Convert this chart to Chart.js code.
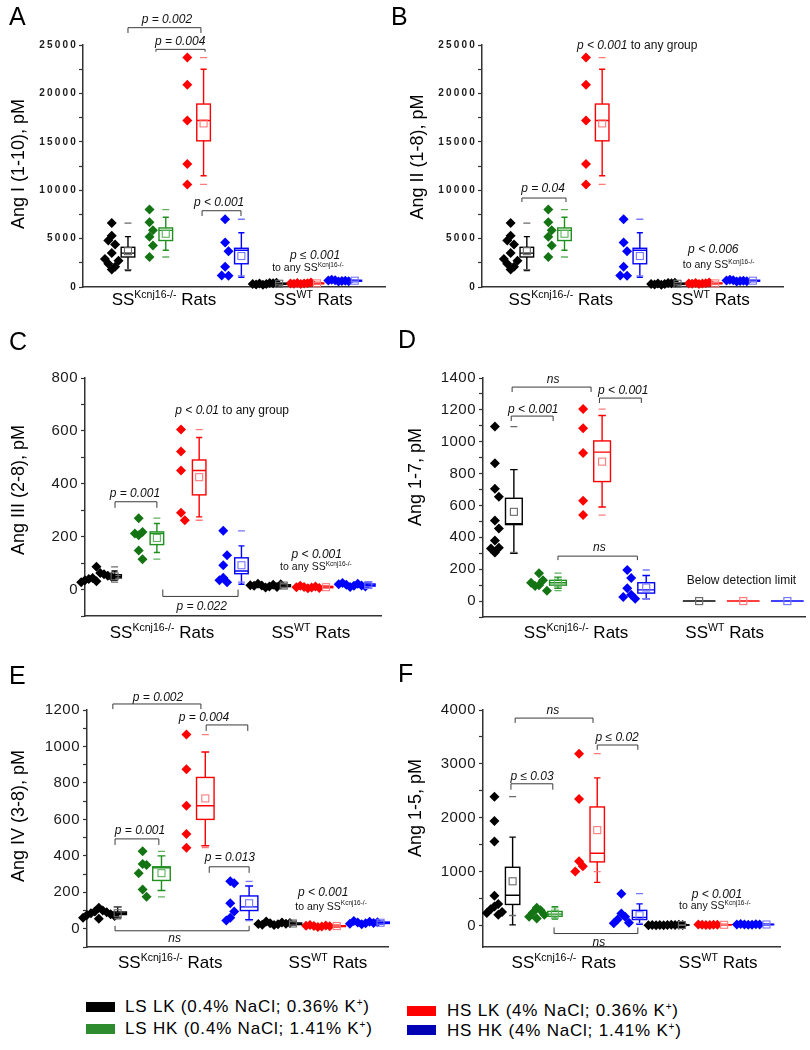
<!DOCTYPE html>
<html>
<head>
<meta charset="utf-8">
<script src="https://cdn.jsdelivr.net/npm/chart.js@4.4.0/dist/chart.umd.min.js"></script>
<style>
  body { margin: 0; background: #fff; font-family: "Liberation Sans", Arial, sans-serif; }
  #fig { position: relative; width: 810px; height: 1050px; overflow: hidden; }
  #fig canvas { position: absolute; }
  .letter { position: absolute; font-size: 25px; line-height: 30px; color: #000; }
  .key { position: absolute; font-size: 17px; line-height: 20px; letter-spacing: 0.8px; color: #000; white-space: nowrap; }
  .key sup { font-size: 10px; vertical-align: 6px; line-height: 0; }
  .sw { position: absolute; width: 29px; height: 10px; }
</style>
</head>
<body>
<div id="fig">
  <canvas id="cA"></canvas><canvas id="cB"></canvas>
  <canvas id="cC"></canvas><canvas id="cD"></canvas>
  <canvas id="cE"></canvas><canvas id="cF"></canvas>
  <div class="letter" style="left:9px;top:1px">A</div>
  <div class="letter" style="left:391px;top:1px">B</div>
  <div class="letter" style="left:9px;top:326px">C</div>
  <div class="letter" style="left:398px;top:324px">D</div>
  <div class="letter" style="left:9px;top:660px">E</div>
  <div class="letter" style="left:398px;top:658px">F</div>
</div>
<script>
// group order in every panel: SSKcnj16-/- LS LK, LS HK, HS LK, HS HK, then SSWT LS LK, HS LK, HS HK
const groupDiet = ['LS LK', 'LS HK', 'HS LK', 'HS HK', 'LS LK', 'HS LK', 'HS HK'];
const strainSup = ['Kcnj16-/-', 'WT'];
const dietLabels = ['LS LK (0.4% NaCl; 0.36% K+)', 'LS HK (0.4% NaCl; 1.41% K+)',
                    'HS LK (4% NaCl; 0.36% K+)', 'HS HK (4% NaCl; 1.41% K+)'];

// Ang I (1-10)
const angI_pts = [
  [1800, 3500, 4400, 5300, 2100, 6600, 2400, 4800, 2700, 2900],
  [5200, 4300, 8000, 3100, 5850, 6700],
  [20900, 12700, 17200, 10600, 23700],
  [2100, 4600, 1150, 7000, 1200, 3700],
  [220, 300, 350, 420, 260, 380, 310, 450],
  [300, 350, 420, 380, 330, 470, 360],
  [560, 620, 700, 650, 750, 600, 680]
];
const angI_lo   = [1700, 3800, 11500, 1000, 220, 300, 560];
const angI_q1   = [3100, 4800, 15100, 2400, 270, 330, 600];
const angI_med  = [3500, 5850, 17200, 3800, 330, 370, 650];
const angI_q3   = [4100, 6100, 18900, 4000, 400, 420, 700];
const angI_hi   = [5200, 7200, 22500, 5600, 450, 470, 750];
const angI_mean = [3700, 5500, 16900, 3200, 335, 373, 651];
const angI_min  = [1800, 3100, 10600, 1150, 220, 300, 560];
const angI_max  = [6600, 8000, 23700, 7000, 450, 470, 750];

// Ang II (1-8)
const angII_pts = [
  [1800, 3500, 4400, 5300, 2100, 6600, 2400, 4800, 2700, 2900],
  [5200, 4300, 8000, 3100, 5850, 6700],
  [20900, 12700, 17200, 10600, 23700],
  [2100, 4600, 1150, 7000, 1200, 3700],
  [220, 300, 350, 420, 260, 380, 310, 450],
  [300, 350, 420, 380, 330, 470, 360],
  [560, 620, 700, 650, 750, 600, 680]
];
const angII_lo   = [1700, 3800, 11500, 1000, 220, 300, 560];
const angII_q1   = [3100, 4800, 15100, 2400, 270, 330, 600];
const angII_med  = [3500, 5850, 17200, 3800, 330, 370, 650];
const angII_q3   = [4100, 6100, 18900, 4000, 400, 420, 700];
const angII_hi   = [5200, 7200, 22500, 5600, 450, 470, 750];
const angII_mean = [3700, 5500, 16900, 3200, 335, 373, 651];
const angII_min  = [1800, 3100, 10600, 1150, 220, 300, 560];
const angII_max  = [6600, 8000, 23700, 7000, 450, 470, 750];

// Ang III (2-8)
const angIII_pts = [
  [86, 31, 63, 44, 58, 40, 52, 35, 48, 28],
  [205, 148, 270, 115, 218, 212],
  [290, 522, 450, 605, 262],
  [92, 45, 222, 28, 130, 35],
  [8, 12, 15, 18, 22, 10, 14, 20, 16],
  [5, 8, 10, 12, 14, 6, 9],
  [10, 14, 18, 22, 25, 15, 20, 12]
];
const angIII_lo   = [35, 140, 275, 20, 8, 5, 10];
const angIII_q1   = [44, 170, 358, 60, 11, 7, 13];
const angIII_med  = [50, 212, 450, 70, 14, 9, 16];
const angIII_q3   = [56, 218, 490, 120, 18, 12, 21];
const angIII_hi   = [70, 250, 575, 165, 22, 14, 25];
const angIII_mean = [50, 195, 425, 92, 15, 9, 17];
const angIII_min  = [28, 115, 262, 28, 8, 5, 10];
const angIII_max  = [86, 270, 605, 222, 22, 14, 25];

// Ang 1-7 (SSWT below detection limit)
const ang17_pts = [
  [1095, 865, 705, 655, 505, 455, 380, 335, 330, 305],
  [175, 130, 100, 95, 65, 115],
  [1205, 1085, 930, 630, 540],
  [195, 145, 80, 40, 25, 15],
  [], [], []
];
const ang17_lo   = [300, 80, 590, 15, null, null, null];
const ang17_q1   = [480, 100, 750, 50, null, null, null];
const ang17_med  = [485, 115, 935, 70, null, null, null];
const ang17_q3   = [645, 130, 1005, 115, null, null, null];
const ang17_hi   = [825, 150, 1165, 160, null, null, null];
const ang17_mean = [560, 115, 875, 85, 0, 0, 0];
const ang17_min  = [305, 65, 540, 15, null, null, null];
const ang17_max  = [1095, 175, 1205, 195, null, null, null];

// Ang IV (3-8)
const angIV_pts = [
  [115, 100, 95, 90, 85, 80, 75, 70, 60, 55],
  [425, 355, 350, 305, 215, 175],
  [1065, 875, 675, 520, 445],
  [260, 250, 140, 95, 60, 45],
  [20, 25, 30, 35, 40, 28, 22, 32, 26],
  [10, 12, 15, 18, 20, 14, 16],
  [25, 30, 35, 38, 42, 32, 28, 36]
];
const angIV_lo   = [60, 210, 455, 50, 20, 10, 25];
const angIV_q1   = [78, 265, 600, 100, 23, 12, 29];
const angIV_med  = [85, 335, 675, 120, 27, 15, 33];
const angIV_q3   = [92, 340, 830, 180, 32, 17, 37];
const angIV_hi   = [120, 400, 970, 235, 40, 20, 42];
const angIV_mean = [85, 305, 715, 140, 29, 15, 33];
const angIV_min  = [55, 175, 445, 45, 20, 10, 25];
const angIV_max  = [120, 425, 1065, 260, 40, 20, 42];

// Ang 1-5
const ang15_pts = [
  [2390, 1940, 1560, 550, 400, 350, 300, 250, 230, 200],
  [330, 280, 240, 200, 160, 130],
  [3190, 2350, 1190, 1100, 1000],
  [590, 220, 160, 110, 50, 40],
  [5, 8, 10, 12, 6, 9, 7, 11, 4, 10],
  [8, 10, 12, 15, 18, 11],
  [12, 15, 18, 22, 25, 16, 20]
];
const ang15_lo   = [10, 120, 800, 20, 4, 8, 12];
const ang15_q1   = [390, 170, 1180, 110, 6, 10, 15];
const ang15_med  = [560, 210, 1340, 150, 8, 11, 18];
const ang15_q3   = [1080, 260, 2200, 280, 10, 15, 22];
const ang15_hi   = [1640, 350, 2740, 400, 12, 18, 25];
const ang15_mean = [820, 220, 1770, 190, 8, 12, 18];
const ang15_min  = [185, 130, 1000, 40, 4, 8, 12];
const ang15_max  = [2390, 330, 3190, 590, 12, 18, 25];

const dietColor = { 'LS LK': '#000000', 'LS HK': '#147414', 'HS LK': '#ff0000', 'HS HK': '#0000ff' };
const boxColor  = { 'LS LK': '#000000', 'LS HK': '#1f8f1f', 'HS LK': '#ff0000', 'HS HK': '#0000ff' };
const lightColor = { 'LS LK': '#6a6a6a', 'LS HK': '#5fb35f', 'HS LK': '#ff7b7b', 'HS HK': '#7676ff' };
const FONT = '"Liberation Sans", Arial, sans-serif';

const toAny = [['to any SS', ''], ['Kcnj16-/-', 's']];

const panels = [
  { id: 'cA', left: 0, top: 0, w: 400, h: 320, area: [83, 45, 385, 287],
    xMin: -0.49, xMax: 7.5, yMin: 0, yMax: 25000, step: 5000,
    tickFont: { family: FONT, size: 10, weight: 'bold' }, spacing: 2.2, tickPad: 1,
    title: 'Ang I (1-10), pM', titleAt: [19, 164], wtShift: 0, boxW: 0.36, catX: [1.65, 5.6], catDy: 13,
    pts: angI_pts, lo: angI_lo, q1: angI_q1, med: angI_med, q3: angI_q3, hi: angI_hi, mean: angI_mean, min: angI_min, max: angI_max,
    notes: [
      { br: [0.70, 2.63, 26790, 26240], at: [1.73, 27650], text: [['p = 0.002', 'i']] },
      { br: [1.44, 2.74, 24550, 24300], at: [2.08, 25340], text: [['p = 0.004', 'i']] },
      { br: [2.66, 3.69, 7880, 7330], at: [3.11, 8710], text: [['p < 0.001', 'i']] },
      { at: [5.65, 3200], text: [['p \u2264 0.001', 'i']] },
      { at: [5.46, 1960], text: toAny, size: 10.5 }
    ] },
  { id: 'cB', left: 400, top: 0, w: 410, h: 320, area: [82, 45, 383, 287],
    xMin: -0.49, xMax: 7.5, yMin: 0, yMax: 25000, step: 5000,
    tickFont: { family: FONT, size: 10, weight: 'bold' }, spacing: 2.2, tickPad: 1,
    title: 'Ang II (1-8), pM', titleAt: [18, 157], wtShift: 0, boxW: 0.36, catX: [1.6, 5.57], catDy: 13,
    pts: angII_pts, lo: angII_lo, q1: angII_q1, med: angII_med, q3: angII_q3, hi: angII_hi, mean: angII_mean, min: angII_min, max: angII_max,
    notes: [
      { at: [3.63, 24900], text: [['p < 0.001', 'i'], [' to any group', '']] },
      { br: [0.57, 1.74, 9190, 8780], at: [1.13, 10120], text: [['p = 0.04', 'i']] },
      { at: [5.65, 3820], text: [['p < 0.006', 'i']] },
      { at: [5.79, 2270], text: toAny, size: 10.5 }
    ] },
  { id: 'cC', left: 0, top: 320, w: 400, h: 330, area: [85, 58, 381, 296],
    xMin: 0, xMax: 7, yMin: -100, yMax: 800, step: 200,
    tickFont: { family: FONT, size: 15 }, spacing: 0.5, tickPad: 3,
    title: 'Ang III (2-8), pM', titleAt: [19, 170], wtShift: 0, boxW: 0.32, catX: [1.82, 5.34], catDy: 17,
    pts: angIII_pts, lo: angIII_lo, q1: angIII_q1, med: angIII_med, q3: angIII_q3, hi: angIII_hi, mean: angIII_mean, min: angIII_min, max: angIII_max,
    notes: [
      { at: [3.48, 675], text: [['p < 0.01', 'i'], [' to any group', '']] },
      { br: [0.71, 1.70, 332, 309], at: [1.18, 362], text: [['p = 0.001', 'i']] },
      { br: [1.84, 3.62, -26, 0], at: [2.76, -64], text: [['p = 0.022', 'i']] },
      { at: [5.48, 132], text: [['p < 0.001', 'i']] },
      { at: [5.46, 83], text: toAny, size: 10.5 }
    ] },
  { id: 'cD', left: 400, top: 320, w: 410, h: 330, area: [83, 58, 405, 297],
    xMin: 0, xMax: 7.3, yMin: -100, yMax: 1400, step: 200,
    tickFont: { family: FONT, size: 15 }, spacing: 0.5, tickPad: 3,
    title: 'Ang 1-7, pM', titleAt: [16, 157], wtShift: 0.2, boxW: 0.38, catX: [2.11, 5.48], catDy: 16,
    pts: ang17_pts, lo: ang17_lo, q1: ang17_q1, med: ang17_med, q3: ang17_q3, hi: ang17_hi, mean: ang17_mean, min: ang17_min, max: ang17_max,
    notes: [
      { br: [0.66, 2.45, 1343, 1312], at: [1.59, 1387], text: [['ns', 'i']] },
      { br: [0.64, 1.59, 1161, 1130], at: [1.14, 1199], text: [['p < 0.001', 'i']] },
      { br: [2.64, 3.59, 1274, 1243], at: [3.18, 1318], text: [['p < 0.001', 'i']] },
      { br: [1.70, 3.50, 282, 257], at: [2.64, 333], text: [['ns', 'i']] },
      { at: [5.86, 126], text: [['Below detection limit', '']] }
    ] },
  { id: 'cE', left: 0, top: 650, w: 400, h: 330, area: [87, 60, 388, 297],
    xMin: 0, xMax: 6.87, yMin: -100, yMax: 1200, step: 200,
    tickFont: { family: FONT, size: 15 }, spacing: 0.5, tickPad: 3,
    title: 'Ang IV (3-8), pM', titleAt: [19, 166], wtShift: 0, boxW: 0.4, catX: [1.9, 5.5], catDy: 16,
    pts: angIV_pts, lo: angIV_lo, q1: angIV_q1, med: angIV_med, q3: angIV_q3, hi: angIV_hi, mean: angIV_mean, min: angIV_min, max: angIV_max,
    notes: [
      { br: [0.59, 2.6, 1233, 1205], at: [1.62, 1266], text: [['p = 0.002', 'i']] },
      { br: [2.72, 3.67, 1118, 1085], at: [2.67, 1156], text: [['p = 0.004', 'i']] },
      { br: [0.64, 1.64, 493, 460], at: [1.21, 537], text: [['p = 0.001', 'i']] },
      { br: [2.79, 3.70, 340, 307], at: [3.26, 389], text: [['p = 0.013', 'i']] },
      { br: [0.64, 3.70, -11, 16], at: [2.0, -55], text: [['ns', 'i']] },
      { at: [5.39, 197], text: [['p < 0.001', 'i']] },
      { at: [5.57, 121], text: toAny, size: 10.5 }
    ] },
  { id: 'cF', left: 400, top: 650, w: 410, h: 330, area: [83, 60, 380, 297],
    xMin: 0, xMax: 7.02, yMin: -400, yMax: 4000, step: 1000,
    tickFont: { family: FONT, size: 15 }, spacing: 0.5, tickPad: 3,
    title: 'Ang 1-5, pM', titleAt: [16, 158], wtShift: 0, boxW: 0.34, catX: [1.91, 5.56], catDy: 16,
    pts: ang15_pts, lo: ang15_lo, q1: ang15_q1, med: ang15_med, q3: ang15_q3, hi: ang15_hi, mean: ang15_mean, min: ang15_min, max: ang15_max,
    notes: [
      { br: [0.76, 2.6, 3850, 3760], at: [1.65, 3980], text: [['ns', 'i']] },
      { br: [2.7, 3.66, 3350, 3260], at: [3.17, 3480], text: [['p \u2264 0.02', 'i']] },
      { br: [0.66, 1.65, 2630, 2520], at: [1.16, 2760], text: [['p \u2264 0.03', 'i']] },
      { br: [1.68, 3.66, -150, -37], at: [2.74, -315], text: [['ns', 'i']] },
      { at: [5.53, 574], text: [['p < 0.001', 'i']] },
      { at: [5.48, 352], text: toAny, size: 10.5 }
    ] }
];

// spread overlapping diamonds sideways (simple beeswarm in value space)
function swarm(values, center, range) {
  const thr = range * 0.045, d = 0.09, placed = [];
  return values.map(v => {
    let k = 0, off = 0;
    for (;;) {
      off = (k % 2 ? 1 : -1) * Math.ceil(k / 2) * d;
      if (!placed.some(p => Math.abs(p.v - v) < thr && Math.abs(p.o - off) < d / 2)) break;
      k++;
    }
    placed.push({ v: v, o: off });
    return { x: center + off, y: v };
  });
}

function richText(ctx, parts, cx, cy, size) {
  const fontOf = st => (st === 'i' ? 'italic ' : '') + (st === 's' ? size * 0.62 : size) + 'px ' + FONT;
  let total = 0;
  parts.forEach(([t, st]) => { ctx.font = fontOf(st); total += ctx.measureText(t).width; });
  let x = cx - total / 2;
  ctx.textAlign = 'left';
  ctx.textBaseline = 'middle';
  parts.forEach(([t, st]) => {
    ctx.font = fontOf(st);
    ctx.fillText(t, x, st === 's' ? cy - size * 0.3 : cy);
    x += ctx.measureText(t).width;
  });
}

function makePanel(p) {
  const canvas = document.getElementById(p.id);
  canvas.width = p.w; canvas.height = p.h;
  canvas.style.left = p.left + 'px'; canvas.style.top = p.top + 'px';
  canvas.style.width = p.w + 'px'; canvas.style.height = p.h + 'px';
  const [L, T, R, B] = p.area;
  const boxX = g => 0.7 + g + (g >= 4 ? p.wtShift : 0);

  const datasets = p.pts.map((vals, g) => ({
    data: swarm(vals, boxX(g) - 0.43, p.yMax - p.yMin),
    pointStyle: 'rectRot', pointRadius: 5, pointHoverRadius: 5,
    backgroundColor: dietColor[groupDiet[g]], borderWidth: 0, clip: false
  }));

  const drawer = {
    id: 'panelDraw',
    beforeDraw(chart) { chart.ctx.letterSpacing = p.spacing + 'px'; },
    beforeDatasetsDraw(chart) { chart.ctx.letterSpacing = '0px'; },
    afterDatasetsDraw(chart) {
      const ctx = chart.ctx, xs = chart.scales.x, ys = chart.scales.y;
      const Y = v => ys.getPixelForValue(v);
      const unit = xs.getPixelForValue(1) - xs.getPixelForValue(0);
      for (let g = 0; g < groupDiet.length; g++) {
        const diet = groupDiet[g], col = boxColor[diet], light = lightColor[diet];
        const cx = xs.getPixelForValue(boxX(g));
        const hw = unit * p.boxW / 2;
        ctx.save();
        ctx.lineWidth = 1.4;
        if (!p.pts[g].length) {
          // below detection limit: flat line with mean marker
          ctx.strokeStyle = col;
          ctx.beginPath(); ctx.moveTo(cx - unit * 0.37, Y(p.mean[g])); ctx.lineTo(cx + unit * 0.37, Y(p.mean[g])); ctx.stroke();
          ctx.strokeStyle = light; ctx.lineWidth = 1.2;
          ctx.strokeRect(cx - 3.5, Y(p.mean[g]) - 3.5, 7, 7);
          ctx.restore();
          continue;
        }
        ctx.strokeStyle = col;
        ctx.beginPath();
        ctx.moveTo(cx, Y(p.lo[g])); ctx.lineTo(cx, Y(p.q1[g]));
        ctx.moveTo(cx, Y(p.q3[g])); ctx.lineTo(cx, Y(p.hi[g]));
        ctx.moveTo(cx - hw * 0.45, Y(p.lo[g])); ctx.lineTo(cx + hw * 0.45, Y(p.lo[g]));
        ctx.moveTo(cx - hw * 0.45, Y(p.hi[g])); ctx.lineTo(cx + hw * 0.45, Y(p.hi[g]));
        ctx.moveTo(cx - hw, Y(p.med[g])); ctx.lineTo(cx + hw, Y(p.med[g]));
        ctx.stroke();
        ctx.strokeRect(cx - hw, Y(p.q3[g]), 2 * hw, Y(p.q1[g]) - Y(p.q3[g]));
        ctx.strokeStyle = light; ctx.lineWidth = 1.3;
        ctx.beginPath();
        ctx.moveTo(cx - 3.5, Y(p.min[g])); ctx.lineTo(cx + 3.5, Y(p.min[g]));
        ctx.moveTo(cx - 3.5, Y(p.max[g])); ctx.lineTo(cx + 3.5, Y(p.max[g]));
        ctx.stroke();
        ctx.lineWidth = 1.1;
        ctx.strokeRect(cx - 3.5, Y(p.mean[g]) - 3.5, 7, 7);
        ctx.restore();
      }
    },
    afterDraw(chart) {
      const ctx = chart.ctx, xs = chart.scales.x, ys = chart.scales.y;
      const X = v => xs.getPixelForValue(v), Y = v => ys.getPixelForValue(v);
      ctx.save();
      ctx.letterSpacing = '0px';
      ctx.strokeStyle = '#3a3a3a'; ctx.lineWidth = 1; ctx.fillStyle = '#111';
      p.notes.forEach(n => {
        if (n.br) {
          const [x1, x2, y, y2] = n.br;
          ctx.beginPath();
          ctx.moveTo(X(x1), Y(y2)); ctx.lineTo(X(x1), Y(y)); ctx.lineTo(X(x2), Y(y)); ctx.lineTo(X(x2), Y(y2));
          ctx.stroke();
        }
        richText(ctx, n.text, X(n.at[0]), Y(n.at[1]), n.size || 12);
      });
      // strain labels under the axis
      ctx.fillStyle = '#000';
      strainSup.forEach((s, i) => {
        richText(ctx, [['SS', ''], [s, 's'], [' Rats', '']], X(p.catX[i]), chart.chartArea.bottom + p.catDy, 17);
      });
      // y title
      ctx.translate(p.titleAt[0], p.titleAt[1]);
      ctx.rotate(-Math.PI / 2);
      ctx.font = '18px ' + FONT;
      ctx.textAlign = 'center'; ctx.textBaseline = 'middle';
      ctx.fillText(p.title, 0, 0);
      ctx.restore();
    }
  };

  new Chart(canvas, {
    type: 'scatter',
    data: { datasets: datasets },
    options: {
      responsive: false, animation: false, devicePixelRatio: 1,
      layout: { padding: { left: 0, top: T, right: p.w - R, bottom: p.h - B } },
      plugins: { legend: { display: false }, tooltip: { enabled: false } },
      scales: {
        x: {
          type: 'linear', min: p.xMin, max: p.xMax,
          afterFit: s => { s.height = 0; },
          ticks: { display: false },
          grid: { display: false, drawTicks: false },
          border: { display: true, color: '#333', width: 1.5 }
        },
        y: {
          type: 'linear', min: p.yMin, max: p.yMax,
          afterFit: s => { s.width = L; },
          // major ticks on multiples of step, minor ticks halfway
          afterBuildTicks: s => {
            const half = p.step / 2, ticks = [];
            for (let v = Math.ceil(p.yMin / half) * half; v <= p.yMax; v += half) ticks.push({ value: v });
            s.ticks = ticks;
          },
          ticks: {
            autoSkip: false, padding: p.tickPad, color: '#1a1a1a', font: p.tickFont,
            callback: v => (v >= 0 && v % p.step === 0) ? String(v) : ''
          },
          grid: { drawOnChartArea: false, drawTicks: true, tickLength: 4, tickColor: '#333', tickWidth: 1.2 },
          border: { display: true, color: '#333', width: 1.5 }
        }
      }
    },
    plugins: [drawer]
  });
}

panels.forEach(makePanel);

// legend
const keyColors = ['#000000', '#2e8b2e', '#ff0000', '#0000b4'];
const keyPos = [[86, 1002, 125, 997], [86, 1024, 125, 1019], [407, 1006, 447, 1001], [407, 1025, 447, 1021]];
const fig = document.getElementById('fig');
dietLabels.forEach((lab, i) => {
  const sw = document.createElement('div');
  sw.className = 'sw';
  sw.style.left = keyPos[i][0] + 'px'; sw.style.top = keyPos[i][1] + 'px';
  sw.style.background = keyColors[i];
  fig.appendChild(sw);
  const t = document.createElement('div');
  t.className = 'key';
  t.style.left = keyPos[i][2] + 'px'; t.style.top = keyPos[i][3] + 'px';
  t.innerHTML = lab.replace('K+)', 'K<sup>+</sup>)');
  fig.appendChild(t);
});
</script>
</body>
</html>
